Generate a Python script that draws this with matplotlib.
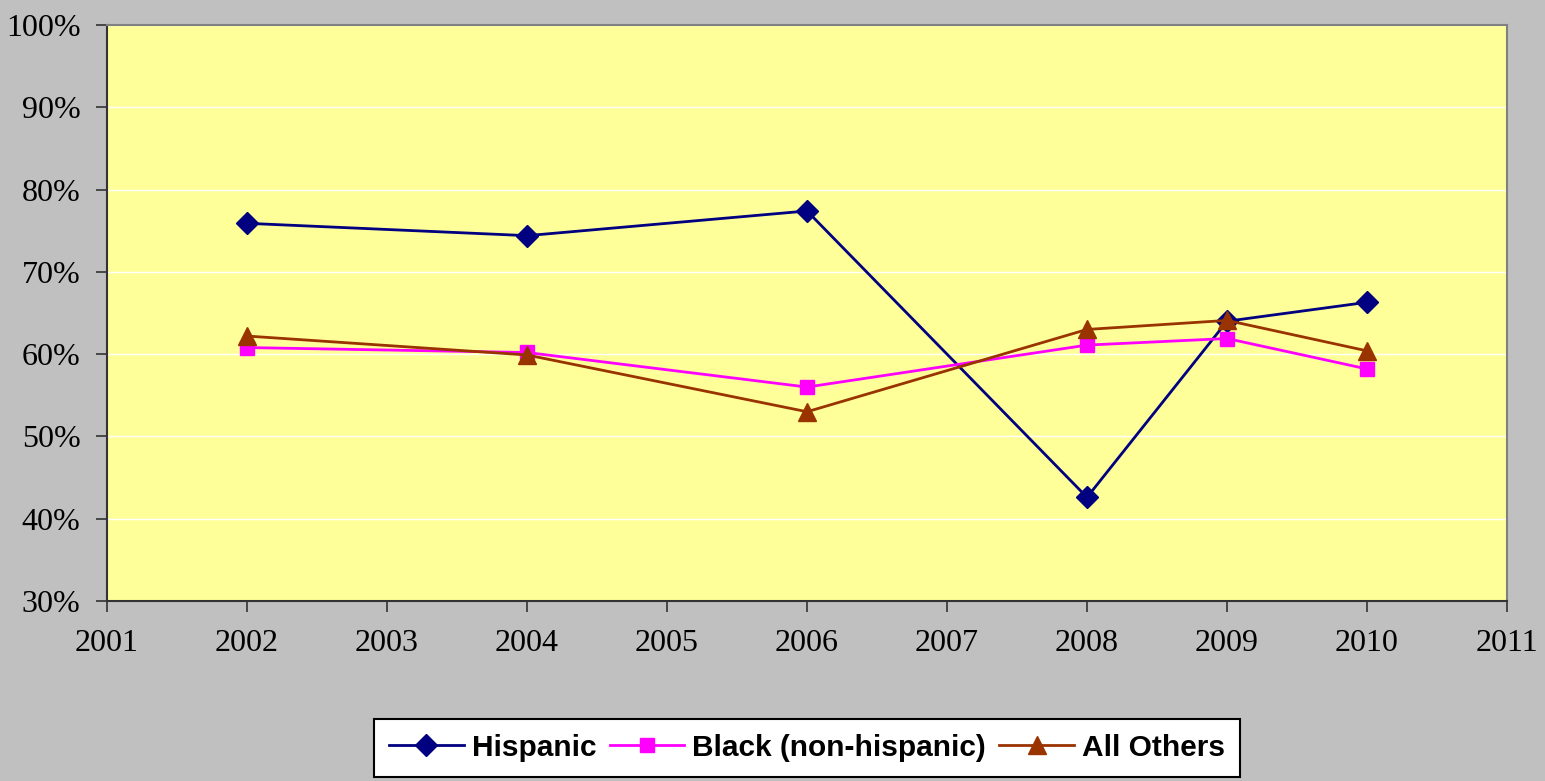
import matplotlib.pyplot as plt
from matplotlib.ticker import FuncFormatter

years = [2002, 2004, 2006, 2008, 2009, 2010]
hispanic = [75.9, 74.4, 77.4, 42.6, 64.0, 66.3]
black = [60.8, 60.2, 56.0, 61.1, 61.9, 58.2]
others = [62.2, 59.9, 53.0, 63.0, 64.1, 60.4]

fig = plt.figure(figsize=(15.45, 7.81), dpi=100, facecolor="#C0C0C0")
ax = fig.add_axes([107/1545, 1-601/781, 1400/1545, 576/781])
ax.set_facecolor("#FFFF99")

ax.plot(years, hispanic, color="#000080", linewidth=2, marker="D", markersize=11, label="Hispanic")
ax.plot(years, black, color="#FF00FF", linewidth=2, marker="s", markersize=10, label="Black (non-hispanic)")
ax.plot(years, others, color="#993300", linewidth=2, marker="^", markersize=13, label="All Others")

ax.set_xlim(2001, 2011)
ax.set_ylim(30, 100)
ax.set_xticks(range(2001, 2012))
ax.set_yticks(range(30, 101, 10))
ax.yaxis.set_major_formatter(FuncFormatter(lambda v, p: "%d%%" % v))
ax.grid(axis="y", color="white", linewidth=1)
ax.set_axisbelow(True)

ax.tick_params(axis="both", length=8, width=1.2, color="#333333", labelsize=23)
for lab in ax.get_xticklabels() + ax.get_yticklabels():
    lab.set_family("Liberation Serif")
ax.tick_params(axis="x", pad=12)
ax.tick_params(axis="y", pad=11)

ax.spines["top"].set_color("#808080")
ax.spines["right"].set_color("#808080")
ax.spines["left"].set_color("#333333")
ax.spines["bottom"].set_color("#333333")
for s in ax.spines.values():
    s.set_linewidth(1.5)

leg = fig.legend(loc="upper left", bbox_to_anchor=(374/1545, 1-719/781), ncol=3,
                 prop={"family": "Liberation Sans", "weight": "bold", "size": 21.5},
                 frameon=True, fancybox=False, edgecolor="black", framealpha=1,
                 handlelength=2.5, handletextpad=0.27, columnspacing=0.45,
                 borderpad=0.5, borderaxespad=0)
leg.get_frame().set_linewidth(1.5)

fig.savefig("out.png", dpi=100, facecolor=fig.get_facecolor())
